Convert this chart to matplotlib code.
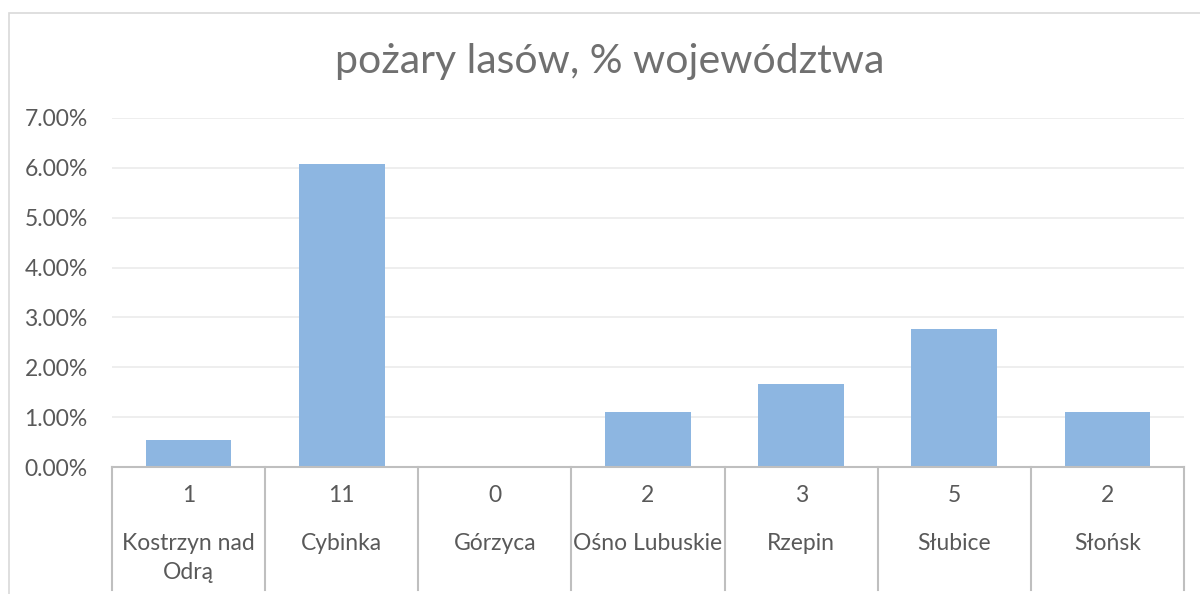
import matplotlib.pyplot as plt
from matplotlib.transforms import blended_transform_factory
from matplotlib.ticker import FuncFormatter
from matplotlib.patches import Rectangle

plt.rcParams['font.family'] = ['Lato', 'DejaVu Sans']

# pożary lasów w gminach powiatu
gminy = ['Kostrzyn nad\nOdrą', 'Cybinka', 'Górzyca', 'Ośno Lubuskie', 'Rzepin', 'Słubice', 'Słońsk']
liczba_pozarow = [1, 11, 0, 2, 3, 5, 2]
procent_woj = [0.0055, 0.0608, 0.0, 0.0110, 0.0166, 0.0276, 0.0110]

text_color = '#595959'
bar_color = '#8DB6E1'
line_color = '#BFBFBF'

fig = plt.figure(figsize=(12, 5.94), dpi=100)
ax = fig.add_axes([112 / 1200, 127 / 594, 1072 / 1200, 349 / 594])

# chart frame
fig.patches.append(Rectangle((9 / 1200, -0.1), 1.1, (594 - 13) / 594 + 0.1,
                             transform=fig.transFigure, fill=False,
                             edgecolor='#D9D9D9', linewidth=1.2))

x = range(len(gminy))
ax.bar(x, procent_woj, width=0.56, color=bar_color, zorder=2)

ax.set_xlim(-0.5, len(gminy) - 0.5)
ax.set_ylim(0, 0.07)
ax.set_yticks([i / 100 for i in range(8)])
ax.yaxis.set_major_formatter(FuncFormatter(lambda v, p: f'{v * 100:.2f}%'))
ax.tick_params(axis='y', length=0, labelsize=16.5, labelcolor=text_color, pad=17.5)
ax.set_xticks([])
ax.grid(axis='y', color='#EBEBEB', linewidth=1.2, zorder=0)
for s in ['top', 'right', 'left']:
    ax.spines[s].set_visible(False)
ax.spines['bottom'].set_color(line_color)
ax.spines['bottom'].set_linewidth(1.5)
ax.spines['bottom'].set_zorder(3)

# two-level category axis
trans = blended_transform_factory(ax.transData, fig.transFigure)
for i in range(len(gminy) + 1):
    ax.plot([i - 0.5, i - 0.5], [127 / 594, 4 / 594], transform=trans,
            color=line_color, linewidth=1.5, clip_on=False)
for i, (g, n) in enumerate(zip(gminy, liczba_pozarow)):
    ax.text(i, (594 - 495) / 594, str(n), transform=trans, ha='center', va='center',
            fontsize=16.5, color=text_color)
    ax.text(i, (594 - 533) / 594, g, transform=trans, ha='center', va='top',
            fontsize=16.5, color=text_color, linespacing=1.45)

fig.text(610 / 1200, (594 - 62) / 594, 'pożary lasów, % województwa',
         ha='center', va='center', fontsize=29.5, color='#707070')

fig.savefig('out.png', dpi=100)
